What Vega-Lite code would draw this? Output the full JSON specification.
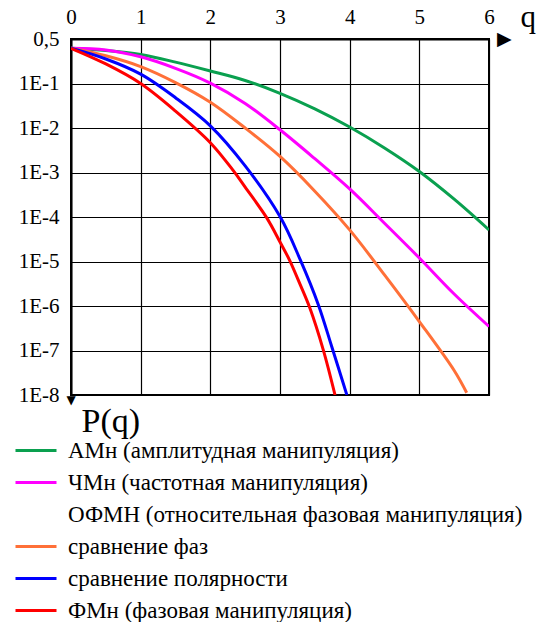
{
  "$schema": "https://vega.github.io/schema/vega-lite/v6.json",
  "width": 418,
  "height": 356,
  "autosize": {"type": "none"},
  "padding": {"left": 71, "top": 39, "right": 61, "bottom": 227},
  "background": "white",
  "config": {
    "view": {"stroke": "black", "strokeWidth": 2},
    "font": "Liberation Serif, DejaVu Serif, serif"
  },
  "datasets": {
    "curves": [
      {"series": "АМн (амплитудная манипуляция)", "q": 0, "P": 0.618},
      {"series": "АМн (амплитудная манипуляция)", "q": 0.5, "P": 0.55},
      {"series": "АМн (амплитудная манипуляция)", "q": 1, "P": 0.447},
      {"series": "АМн (амплитудная манипуляция)", "q": 1.5, "P": 0.302},
      {"series": "АМн (амплитудная манипуляция)", "q": 2, "P": 0.191},
      {"series": "АМн (амплитудная манипуляция)", "q": 2.5, "P": 0.117},
      {"series": "АМн (амплитудная манипуляция)", "q": 3, "P": 0.0603},
      {"series": "АМн (амплитудная манипуляция)", "q": 3.5, "P": 0.0269},
      {"series": "АМн (амплитудная манипуляция)", "q": 4, "P": 0.0105},
      {"series": "АМн (амплитудная манипуляция)", "q": 4.5, "P": 0.00355},
      {"series": "АМн (амплитудная манипуляция)", "q": 5, "P": 0.00105},
      {"series": "АМн (амплитудная манипуляция)", "q": 5.5, "P": 0.000251},
      {"series": "АМн (амплитудная манипуляция)", "q": 6, "P": 0.0000513},
      {"series": "ЧМн (частотная манипуляция)", "q": 0, "P": 0.618},
      {"series": "ЧМн (частотная манипуляция)", "q": 0.5, "P": 0.569},
      {"series": "ЧМн (частотная манипуляция)", "q": 1, "P": 0.398},
      {"series": "ЧМн (частотная манипуляция)", "q": 1.5, "P": 0.219},
      {"series": "ЧМн (частотная манипуляция)", "q": 2, "P": 0.102},
      {"series": "ЧМн (частотная манипуляция)", "q": 2.5, "P": 0.0355},
      {"series": "ЧМн (частотная манипуляция)", "q": 3, "P": 0.00912},
      {"series": "ЧМн (частотная манипуляция)", "q": 3.5, "P": 0.00204},
      {"series": "ЧМн (частотная манипуляция)", "q": 4, "P": 0.000427},
      {"series": "ЧМн (частотная манипуляция)", "q": 4.5, "P": 0.0000724},
      {"series": "ЧМн (частотная манипуляция)", "q": 5, "P": 0.000012},
      {"series": "ЧМн (частотная манипуляция)", "q": 5.5, "P": 0.00000186},
      {"series": "ЧМн (частотная манипуляция)", "q": 6, "P": 0.000000347},
      {"series": "сравнение фаз", "q": 0, "P": 0.618},
      {"series": "сравнение фаз", "q": 0.5, "P": 0.42},
      {"series": "сравнение фаз", "q": 1, "P": 0.24},
      {"series": "сравнение фаз", "q": 1.5, "P": 0.105},
      {"series": "сравнение фаз", "q": 2, "P": 0.038},
      {"series": "сравнение фаз", "q": 2.5, "P": 0.01},
      {"series": "сравнение фаз", "q": 3, "P": 0.00229},
      {"series": "сравнение фаз", "q": 3.5, "P": 0.00038},
      {"series": "сравнение фаз", "q": 4, "P": 0.0000513},
      {"series": "сравнение фаз", "q": 4.5, "P": 0.000005},
      {"series": "сравнение фаз", "q": 5, "P": 0.000000447},
      {"series": "сравнение фаз", "q": 5.5, "P": 0.0000000355},
      {"series": "сравнение фаз", "q": 5.68, "P": 0.0000000112},
      {"series": "сравнение полярности", "q": 0, "P": 0.618},
      {"series": "сравнение полярности", "q": 0.5, "P": 0.355},
      {"series": "сравнение полярности", "q": 1, "P": 0.162},
      {"series": "сравнение полярности", "q": 1.5, "P": 0.0479},
      {"series": "сравнение полярности", "q": 2, "P": 0.0112},
      {"series": "сравнение полярности", "q": 2.5, "P": 0.00141},
      {"series": "сравнение полярности", "q": 3, "P": 0.000102},
      {"series": "сравнение полярности", "q": 3.29, "P": 0.000011},
      {"series": "сравнение полярности", "q": 3.55, "P": 0.00000107},
      {"series": "сравнение полярности", "q": 3.74, "P": 0.000000126},
      {"series": "сравнение полярности", "q": 3.96, "P": 0.00000001},
      {"series": "ФМн (фазовая манипуляция)", "q": 0, "P": 0.618},
      {"series": "ФМн (фазовая манипуляция)", "q": 0.5, "P": 0.275},
      {"series": "ФМн (фазовая манипуляция)", "q": 1, "P": 0.1},
      {"series": "ФМн (фазовая манипуляция)", "q": 1.5, "P": 0.024},
      {"series": "ФМн (фазовая манипуляция)", "q": 2, "P": 0.00468},
      {"series": "ФМн (фазовая манипуляция)", "q": 2.33, "P": 0.0011},
      {"series": "ФМн (фазовая манипуляция)", "q": 2.5, "P": 0.000468},
      {"series": "ФМн (фазовая манипуляция)", "q": 2.81, "P": 0.0000955},
      {"series": "ФМн (фазовая манипуляция)", "q": 3, "P": 0.0000275},
      {"series": "ФМн (фазовая манипуляция)", "q": 3.14, "P": 0.0000105},
      {"series": "ФМн (фазовая манипуляция)", "q": 3.29, "P": 0.00000302},
      {"series": "ФМн (фазовая манипуляция)", "q": 3.43, "P": 0.000000891},
      {"series": "ФМн (фазовая манипуляция)", "q": 3.62, "P": 0.000000105},
      {"series": "ФМн (фазовая манипуляция)", "q": 3.79, "P": 0.00000001}
    ]
  },
  "layer": [
    {
      "data": {"name": "curves"},
      "mark": {"type": "line", "strokeWidth": 3, "interpolate": "catmull-rom", "clip": true},
      "encoding": {
        "x": {
          "field": "q",
          "type": "quantitative",
          "scale": {"domain": [0, 6], "nice": false, "zero": false},
          "axis": {
            "orient": "top",
            "values": [0, 1, 2, 3, 4, 5, 6],
            "format": "d",
            "grid": true,
            "ticks": false,
            "labelFont": "Liberation Serif, DejaVu Serif, serif",
            "labelFontSize": 21,
            "labelColor": "black",
            "labelPadding": 12,
            "labelFlush": false,
            "domainColor": "black",
            "domainWidth": 2,
            "gridColor": "black",
            "gridWidth": 1.2,
            "gridOpacity": 1,
            "title": "q",
            "titleFont": "Liberation Serif, DejaVu Serif, serif",
            "titleFontSize": 31,
            "titleFontWeight": "normal",
            "titleColor": "black",
            "titleX": 449,
            "titleY": -13,
            "titleAlign": "left",
            "titleBaseline": "alphabetic",
            "titleAngle": 0
          }
        },
        "y": {
          "field": "P",
          "type": "quantitative",
          "scale": {"type": "log", "domain": [0.00000001, 1], "nice": false},
          "axis": {
            "orient": "left",
            "values": [1, 0.1, 0.01, 0.001, 0.0001, 0.00001, 0.000001, 0.0000001, 0.00000001],
            "labelExpr": "datum.value > 0.5 ? '0,5' : '1E-' + round(-log(datum.value) / LN10)",
            "grid": true,
            "ticks": false,
            "labelFont": "Liberation Serif, DejaVu Serif, serif",
            "labelFontSize": 21,
            "labelColor": "black",
            "labelPadding": 12,
            "labelFlush": false,
            "labelOverlap": false,
            "domainColor": "black",
            "domainWidth": 2,
            "gridColor": "black",
            "gridWidth": 1.2,
            "gridOpacity": 1,
            "title": "P(q)",
            "titleFont": "Liberation Serif, DejaVu Serif, serif",
            "titleFontSize": 34,
            "titleFontWeight": "normal",
            "titleColor": "black",
            "titleX": 10,
            "titleY": 392,
            "titleAlign": "left",
            "titleBaseline": "alphabetic",
            "titleAngle": 0
          }
        },
        "color": {
          "field": "series",
          "type": "nominal",
          "scale": {
            "domain": [
              "АМн (амплитудная манипуляция)",
              "ЧМн (частотная манипуляция)",
              "ОФМН (относительная фазовая манипуляция)",
              "сравнение фаз",
              "сравнение полярности",
              "ФМн (фазовая манипуляция)"
            ],
            "range": ["#0aa04f", "#ff00ff", "#ffffff", "#ff7038", "#0000ff", "#ff0000"]
          },
          "legend": {
            "orient": "none",
            "legendX": -57,
            "legendY": 396,
            "title": null,
            "symbolType": "stroke",
            "symbolSize": 1681,
            "symbolStrokeWidth": 3,
            "labelFont": "Liberation Serif, DejaVu Serif, serif",
            "labelFontSize": 23,
            "labelColor": "black",
            "labelOffset": 10,
            "labelLimit": 0,
            "clipHeight": 31,
            "rowPadding": 1
          }
        }
      }
    },
    {
      "mark": {"type": "rule", "color": "black", "strokeWidth": 2, "clip": false},
      "encoding": {"x": {"datum": 6}, "x2": {"datum": 6.15}, "y": {"datum": 1}}
    },
    {
      "data": {"values": [{}]},
      "mark": {"type": "text", "text": "▶", "font": "DejaVu Sans", "fontSize": 19, "color": "black", "align": "center", "baseline": "middle", "clip": false},
      "encoding": {"x": {"datum": 6.22}, "y": {"datum": 1}}
    },
    {
      "data": {"values": [{}]},
      "mark": {"type": "text", "text": "▼", "font": "DejaVu Sans", "fontSize": 12, "color": "black", "align": "center", "baseline": "middle", "clip": false},
      "encoding": {"x": {"datum": 0}, "y": {"datum": 0.0000000076}}
    }
  ]
}
